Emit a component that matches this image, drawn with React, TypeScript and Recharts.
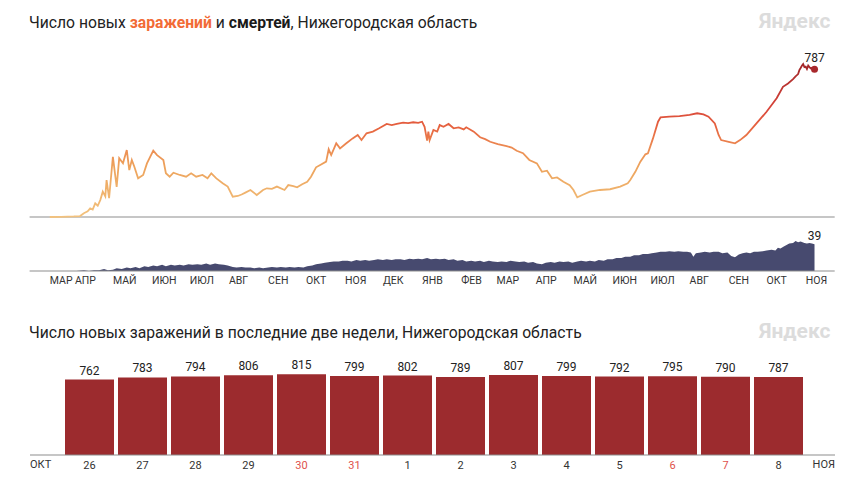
import React from "react";
import {
  LineChart,
  Line,
  AreaChart,
  Area,
  BarChart,
  Bar,
  XAxis,
  YAxis,
  ReferenceLine,
  ReferenceDot,
  LabelList,
} from "recharts";

// day index: 0 = 1 March 2020
const caseDays = [
  11, 20, 30, 35, 38, 41, 43, 45, 47, 49, 51, 53, 55, 56, 58, 61, 64, 66, 69, 72,
  74, 76, 78, 81, 85, 88, 93, 96, 101, 103, 106, 109, 114, 119, 123, 127, 132, 136,
  139, 143, 148, 152, 156, 160, 163, 166, 170, 175, 180, 183, 187, 191, 197, 200,
  204, 207, 211, 215, 218, 222, 226, 230, 232, 234, 238, 241, 246, 251, 255, 258,
  262, 267, 272, 278, 282, 286, 291, 295, 299, 303, 306, 308, 310, 311, 312, 315,
  318, 320, 323, 327, 331, 335, 339, 341, 347, 352, 356, 360, 366, 373, 377, 381,
  386, 391, 397, 401, 405, 409, 413, 418, 423, 426, 429, 433, 439, 447, 455, 463,
  469, 471, 475, 479, 483, 485, 489, 493, 495, 502, 510, 518, 524, 529, 533, 538,
  541, 543, 549, 554, 558, 563, 571, 579, 587, 592, 596, 600, 602, 604, 605, 606,
  607, 608, 609, 610, 611, 612, 613, 614, 615, 616, 617,
];
const caseValues = [
  0, 1, 3, 5, 20, 30, 46, 40, 73, 60, 90, 135, 110, 197, 100, 321, 161, 313, 286, 357,
  250, 304, 268, 206, 224, 286, 354, 330, 304, 233, 215, 236, 224, 215, 233, 215, 224, 206,
  233, 206, 180, 162, 108, 112, 120, 130, 144, 117, 144, 153, 150, 162, 144, 170,
  165, 158, 175, 188, 215, 265, 280, 295, 361, 330, 393, 366, 393, 419, 437, 410,
  446, 455, 473, 496, 490, 496, 503, 500, 505, 502, 508, 481, 407, 455, 410, 464,
  455, 490, 481, 496, 473, 478, 467, 478, 455, 425, 415, 401, 389, 378, 370, 353,
  340, 304, 286, 241, 247, 206, 211, 188, 170, 144, 105, 117, 135, 144, 148, 162,
  180, 197, 241, 295, 334, 339, 419, 508, 531, 535, 538, 544, 553, 547, 535, 499,
  437, 410, 401, 393, 410, 437, 499, 561, 633, 694, 712, 735, 750, 762, 783, 794,
  806, 815, 799, 802, 789, 807, 799, 792, 795, 790, 787,
];

const deathDays = [
  11, 18, 25, 32, 38, 42, 46, 50, 54, 57, 61, 64, 68, 72, 75, 79, 82, 86, 89, 93,
  96, 100, 103, 107, 110, 114, 117, 121, 124, 128, 131, 135, 138, 142, 145, 149, 152,
  156, 159, 163, 166, 170, 173, 177, 180, 184, 187, 191, 194, 198, 201, 205, 208, 212,
  215, 219, 222, 226, 229, 233, 236, 240, 243, 247, 250, 254, 257, 261, 264, 268, 271,
  275, 278, 282, 285, 289, 292, 296, 299, 303, 306, 310, 313, 317, 320, 324, 327, 331,
  334, 338, 341, 345, 348, 352, 355, 359, 362, 366, 369, 373, 376, 380, 383, 387, 390,
  394, 397, 401, 404, 408, 411, 415, 418, 422, 425, 429, 432, 436, 439, 443, 446, 450,
  453, 457, 460, 464, 467, 471, 474, 478, 481, 485, 488, 492, 495, 499, 502, 506, 509,
  513, 516, 519, 521, 523, 527, 530, 534, 537, 541, 544, 548, 551, 554, 557, 560, 563,
  566, 569, 572, 576, 579, 583, 586, 588, 590, 593, 597, 600, 602, 604, 606, 609, 611,
  613, 615, 617,
];
const deathValues = [
  0, 0, 0, 0, 1, 0, 1, 1, 3, 1, 2, 4, 3, 5, 4, 6, 4, 7, 6, 8,
  7, 9, 7, 9, 8, 9, 8, 10, 9, 10, 9, 11, 9, 11, 10, 9, 8,
  6, 5, 6, 5, 5, 4, 5, 4, 5, 6, 5, 6, 5, 6, 5, 6, 5,
  7, 8, 10, 11, 12, 13, 14, 14, 15, 15, 14, 16, 15, 16, 15, 16, 17,
  16, 17, 16, 17, 17, 16, 18, 17, 18, 17, 19, 17, 18, 17, 18, 16, 17,
  15, 16, 14, 15, 14, 15, 13, 15, 14, 13, 14, 13, 15, 14, 13, 14, 12,
  13, 11, 10, 12, 13, 12, 14, 13, 14, 12, 14, 15, 14, 15, 14, 16, 15,
  17, 17, 19, 19, 21, 21, 23, 23, 25, 25, 26, 27, 28, 28, 29, 28, 29,
  28, 28, 27, 21, 26, 27, 28, 27, 28, 28, 26, 27, 22, 20, 24, 26, 27,
  26, 28, 28, 29, 30, 31, 30, 34, 33, 36, 40, 41, 44, 42, 43, 41, 40,
  41, 40, 39,
];

const monthTicks = [
  11, 31, 61, 92, 122, 153, 184, 214, 245, 275, 306, 337, 365, 396, 426, 457, 487,
  518, 549, 579, 610,
];
const monthLabels = [
  "МАР", "АПР", "МАЙ", "ИЮН", "ИЮЛ", "АВГ", "СЕН", "ОКТ", "НОЯ", "ДЕК", "ЯНВ",
  "ФЕВ", "МАР", "АПР", "МАЙ", "ИЮН", "ИЮЛ", "АВГ", "СЕН", "ОКТ", "НОЯ",
];

const barDays = ["26", "27", "28", "29", "30", "31", "1", "2", "3", "4", "5", "6", "7", "8"];
const barValues = [762, 783, 794, 806, 815, 799, 802, 789, 807, 799, 792, 795, 790, 787];
const weekendDays = ["30", "31", "6", "7"];

const FONT = "Roboto, 'Noto Sans', sans-serif";
const AXIS = "#8d8d8d";

const caseData = caseDays.map((day, i) => ({ day, value: caseValues[i] }));
const deathData = deathDays.map((day, i) => ({ day, value: deathValues[i] }));
const barData = barDays.map((day, i) => ({ day, value: barValues[i] }));

const lastCaseDay = caseDays[caseDays.length - 1];
const lastCase = caseValues[caseValues.length - 1];
const lastDeathDay = deathDays[deathDays.length - 1];
const lastDeath = deathValues[deathValues.length - 1];

function MonthTick(props: any) {
  const { x, y, payload } = props;
  const i = monthTicks.indexOf(payload.value);
  return (
    <text x={x} y={y} dy="0.71em" textAnchor="start" fontSize={10.5} fill="#333" fontFamily={FONT}>
      {monthLabels[i]}
    </text>
  );
}

function DayTick(props: any) {
  const { x, y, payload } = props;
  const red = weekendDays.includes(payload.value);
  return (
    <text
      x={x}
      y={y}
      dy="0.71em"
      textAnchor="middle"
      fontSize={11}
      fill={red ? "#e0514b" : "#333"}
      fontFamily={FONT}
    >
      {payload.value}
    </text>
  );
}

const watermark: React.CSSProperties = {
  position: "absolute",
  left: 759,
  fontSize: 21,
  fontWeight: 700,
  color: "#dcdcdc",
  lineHeight: "21px",
};

const title: React.CSSProperties = {
  position: "absolute",
  left: 29,
  fontSize: 15.7,
  lineHeight: "16px",
  color: "#222",
  whiteSpace: "nowrap",
};

export default function App() {
  return (
    <div
      style={{
        position: "absolute",
        left: 0,
        top: 0,
        width: 854,
        height: 483,
        background: "#fff",
        fontFamily: FONT,
        overflow: "hidden",
      }}
    >
      <div style={{ ...title, top: 15 }}>
        Число новых <b style={{ color: "#f26b36" }}>заражений</b> и{" "}
        <b style={{ color: "#1a1a1a" }}>смертей</b>, Нижегородская область
      </div>
      <div style={{ ...watermark, top: 11 }}>Яндекс</div>

      <div style={{ position: "absolute", left: 0, top: 0 }}>
        <LineChart
          width={854}
          height={230}
          data={caseData}
          margin={{ top: 61.3, right: 19.3, bottom: 13, left: 29.6 }}
        >
          <defs>
            <linearGradient id="caseGrad" gradientUnits="userSpaceOnUse" x1="0" y1="61" x2="0" y2="217">
              <stop offset="0" stopColor="#9e2428" />
              <stop offset="0.1" stopColor="#b02f2e" />
              <stop offset="0.3" stopColor="#d8453a" />
              <stop offset="0.42" stopColor="#e6623f" />
              <stop offset="0.55" stopColor="#ec8a52" />
              <stop offset="0.68" stopColor="#eda35c" />
              <stop offset="1" stopColor="#f2c27e" />
            </linearGradient>
          </defs>
          <XAxis type="number" dataKey="day" domain={[-5, 633]} hide />
          <YAxis type="number" domain={[0, 830]} hide />
          <ReferenceLine y={0} stroke={AXIS} strokeWidth={1} />
          <Line
            type="linear"
            dataKey="value"
            stroke="url(#caseGrad)"
            strokeWidth={1.8}
            dot={false}
            isAnimationActive={false}
          />
          <ReferenceDot
            x={lastCaseDay}
            y={lastCase}
            r={3.5}
            fill="#a8282c"
            stroke="none"
            label={{ value: String(lastCase), position: "top", fontSize: 12, fill: "#222", offset: 4 }}
          />
        </LineChart>
      </div>

      <div style={{ position: "absolute", left: 0, top: 220 }}>
        <AreaChart
          width={854}
          height={80}
          data={deathData}
          margin={{ top: 20.2, right: 19.3, bottom: 0, left: 29.6 }}
        >
          <defs>
            <linearGradient id="deathGrad" gradientUnits="userSpaceOnUse" x1="0" y1="240" x2="0" y2="271">
              <stop offset="0" stopColor="#474a6f" />
              <stop offset="0.5" stopColor="#5a5e85" />
              <stop offset="0.8" stopColor="#666a8f" />
              <stop offset="1" stopColor="#9a9db6" />
            </linearGradient>
          </defs>
          <XAxis
            type="number"
            dataKey="day"
            domain={[-5, 633]}
            ticks={monthTicks}
            interval={0}
            tickLine={false}
            tickSize={4}
            height={29}
            axisLine={{ stroke: AXIS }}
            tick={MonthTick}
          />
          <YAxis type="number" domain={[0, 45]} hide />
          <Area
            type="linear"
            dataKey="value"
            stroke="none"
            fill="url(#deathGrad)"
            fillOpacity={1}
            isAnimationActive={false}
          />
          <ReferenceDot
            x={lastDeathDay}
            y={lastDeath}
            r={1}
            fill="none"
            stroke="none"
            label={{ value: String(lastDeath), position: "top", fontSize: 12, fill: "#222", offset: 3 }}
          />
        </AreaChart>
      </div>

      <div style={{ ...title, top: 325 }}>
        Число новых заражений в последние две недели, Нижегородская область
      </div>
      <div style={{ ...watermark, top: 321 }}>Яндекс</div>

      <div style={{ position: "absolute", left: 0, top: 340 }}>
        <BarChart
          width={854}
          height={140}
          data={barData}
          margin={{ top: 16, right: 19, bottom: 0, left: 30 }}
        >
          <XAxis
            dataKey="day"
            padding={{ left: 33, right: 30 }}
            interval={0}
            tickLine={false}
            tickSize={4}
            height={25}
            axisLine={{ stroke: AXIS }}
            tick={DayTick}
          />
          <YAxis type="number" domain={[0, 1000]} hide />
          <Bar dataKey="value" fill="#9c2b2e" barSize={49} isAnimationActive={false}>
            <LabelList dataKey="value" position="top" fontSize={12} fill="#222" fontFamily={FONT} />
          </Bar>
        </BarChart>
      </div>
      <div style={{ position: "absolute", left: 30, top: 459, fontSize: 11, lineHeight: "12px", color: "#333" }}>
        ОКТ
      </div>
      <div style={{ position: "absolute", right: 19, top: 459, fontSize: 11, lineHeight: "12px", color: "#333" }}>
        НОЯ
      </div>
    </div>
  );
}
